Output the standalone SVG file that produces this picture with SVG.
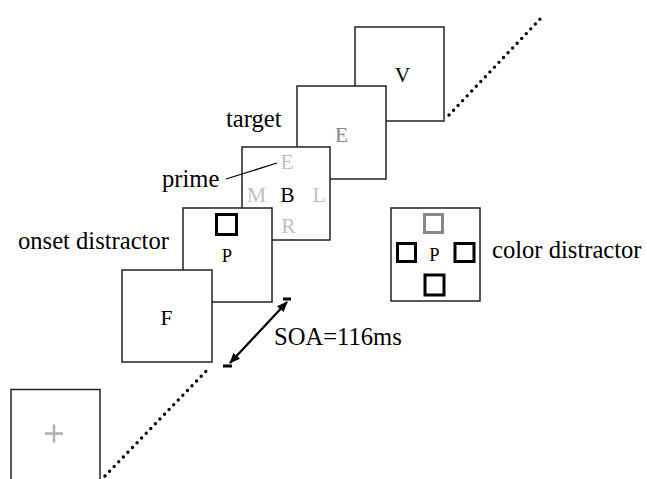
<svg xmlns="http://www.w3.org/2000/svg" width="647" height="479" viewBox="0 0 647 479">
  <style>
    .frame { fill: #fff; stroke: #222; stroke-width: 1.5; }
    .lbl { font-family: "Liberation Serif", "Times New Roman", serif; font-size: 24.6px; fill: #000; }
    .ch { font-family: "Liberation Serif", "Times New Roman", serif; font-size: 21.5px; text-anchor: middle; }
    .chs { font-family: "Liberation Serif", "Times New Roman", serif; font-size: 18.5px; text-anchor: middle; fill: #000; }
    .sq { fill: none; stroke: #000; stroke-width: 3; }
    .sq.grey { stroke: #888; }
    .dots { fill: none; stroke: #000; stroke-width: 3.4; stroke-linecap: round; stroke-dasharray: 0 6.6; }
  </style>
  <defs>
    <marker id="head" viewBox="0 0 10 10" refX="9" refY="5" markerWidth="5" markerHeight="5" orient="auto-start-reverse" markerUnits="strokeWidth">
      <path d="M0,1 L10,5 L0,9 z" fill="#000"/>
    </marker>
  </defs>
  <rect width="647" height="479" fill="#fff"/>

  <!-- fixation frame -->
  <g id="fixation">
    <rect class="frame" x="11" y="389.5" width="89" height="100"/>
    <path d="M45 433.5 H63 M54 424.5 V442.5" stroke="#b0b0b0" stroke-width="2.5" fill="none"/>
  </g>

  <!-- frame sequence, back to front -->
  <g id="frame-v">
    <rect class="frame" x="355" y="27" width="89" height="94"/>
    <text class="ch" x="402.5" y="82" fill="#000">V</text>
  </g>
  <g id="frame-target">
    <rect class="frame" x="297" y="86" width="89" height="93"/>
    <text class="ch" x="341.5" y="142" fill="#888">E</text>
  </g>
  <g id="frame-prime">
    <rect class="frame" x="242" y="147" width="88" height="93"/>
    <text class="ch" x="287" y="169" fill="#c0c0c0">E</text>
    <text class="ch" x="256.5" y="202" fill="#c0c0c0">M</text>
    <text class="ch" x="287.5" y="202" fill="#000">B</text>
    <text class="ch" x="319" y="202" fill="#c0c0c0">L</text>
    <text class="ch" x="288.5" y="233" fill="#c0c0c0">R</text>
  </g>
  <g id="frame-onset">
    <rect class="frame" x="183" y="208" width="89" height="94"/>
    <rect class="sq" x="216.5" y="214.5" width="20" height="20"/>
    <text class="chs" x="227" y="262">P</text>
  </g>
  <g id="frame-f">
    <rect class="frame" x="122" y="270" width="90" height="92"/>
    <text class="ch" x="166.5" y="325" fill="#000">F</text>
  </g>

  <!-- color distractor frame -->
  <g id="color-distractor">
    <rect class="frame" x="391" y="208" width="89" height="93"/>
    <rect class="sq grey" x="424.5" y="214.5" width="18" height="18"/>
    <rect class="sq" x="397.5" y="243.5" width="18" height="18"/>
    <rect class="sq" x="455" y="243.5" width="19" height="18"/>
    <rect class="sq" x="425" y="275" width="19" height="20"/>
    <text class="chs" x="434.5" y="261">P</text>
  </g>

  <!-- labels -->
  <g id="labels">
    <text class="lbl" x="226" y="127">target</text>
    <text class="lbl" x="162" y="187">prime</text>
    <text class="lbl" x="18" y="249">onset distractor</text>
    <text class="lbl" x="492" y="258">color distractor</text>
    <text class="lbl" x="274" y="345">SOA=116ms</text>
  </g>

  <!-- connectors -->
  <g id="connectors">
    <line x1="226" y1="179" x2="277" y2="163" stroke="#000" stroke-width="1.3"/>
    <line class="dots" x1="105" y1="476" x2="210" y2="367"/>
    <line class="dots" x1="449" y1="115" x2="543" y2="16"/>
    <line x1="230" y1="363" x2="287" y2="302" stroke="#000" stroke-width="2.2" marker-start="url(#head)" marker-end="url(#head)"/>
    <line x1="223" y1="366" x2="232" y2="366" stroke="#000" stroke-width="3"/>
    <line x1="283" y1="299" x2="291" y2="299" stroke="#000" stroke-width="3"/>
  </g>
</svg>
